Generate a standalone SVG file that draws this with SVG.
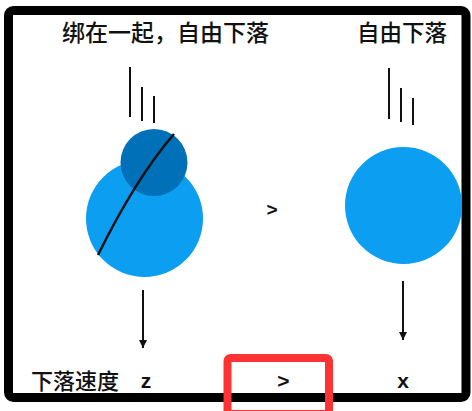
<svg xmlns="http://www.w3.org/2000/svg" width="472" height="411" viewBox="0 0 472 411">
<defs>
<style>
.t{font-family:"Noto Sans CJK SC","Noto Sans",sans-serif;font-weight:500;fill:#111;}
.ln{stroke:#111;stroke-width:2;fill:none;}
.sym{font-family:"Liberation Sans",Arial,sans-serif;font-weight:bold;fill:#111;}
</style>
<marker id="ah" markerWidth="8" markerHeight="8" refX="8" refY="4" orient="auto" markerUnits="userSpaceOnUse" viewBox="0 0 8 8">
<path d="M0,0 L8,4 L0,8 Z" fill="#111"/>
</marker>
</defs>
<rect width="472" height="411" fill="#fff"/>
<rect x="8.5" y="10.5" width="457.5" height="387" rx="5" fill="none" stroke="#000" stroke-width="9"/>
<g id="title-left"><text class="t" x="62" y="41" font-size="23">绑在一起，自由下落</text></g>
<g id="title-right"><text class="t" x="357" y="41" font-size="22.5">自由下落</text></g>
<g id="speed-lines-left">
<line class="ln" x1="130" y1="67" x2="130" y2="117"/>
<line class="ln" x1="142" y1="87" x2="142" y2="121"/>
<line class="ln" x1="154" y1="96" x2="154" y2="123"/>
</g>
<g id="speed-lines-right">
<line class="ln" x1="389" y1="68" x2="389" y2="119"/>
<line class="ln" x1="401" y1="88" x2="401" y2="122"/>
<line class="ln" x1="413" y1="98" x2="413" y2="125"/>
</g>
<g id="ball-big-left"><circle cx="144.5" cy="218.5" r="58.5" fill="#0c9ef0"/></g>
<g id="ball-small-left"><circle cx="154" cy="162.5" r="33.5" fill="#0070b8"/></g>
<g id="rope"><path d="M174,134 Q136,178 98,255" stroke="#111" stroke-width="2.5" fill="none"/></g>
<g id="ball-right"><circle cx="403.5" cy="205.5" r="58.5" fill="#0c9ef0"/></g>
<g id="compare-mid"><text class="sym" x="272" y="216" font-size="19" text-anchor="middle">&gt;</text></g>
<g id="connectors">
<line class="ln" x1="143" y1="290" x2="143" y2="348" stroke-width="1.5" marker-end="url(#ah)"/>
<line class="ln" x1="403" y1="281" x2="403" y2="340" stroke-width="1.5" marker-end="url(#ah)"/>
</g>
<g id="label-speed"><text class="t" x="31" y="389" font-size="22">下落速度</text></g>
<g id="label-z"><text class="sym" x="146" y="388" font-size="21" text-anchor="middle">z</text></g>
<g id="label-gt"><text class="sym" x="283.5" y="388" font-size="21" text-anchor="middle">&gt;</text></g>
<g id="label-x"><text class="sym" x="403" y="388" font-size="21" text-anchor="middle">x</text></g>
<g id="highlight"><rect x="227.5" y="358" width="101.5" height="56" rx="3" fill="none" stroke="#ff3333" stroke-width="8"/></g>
</svg>
